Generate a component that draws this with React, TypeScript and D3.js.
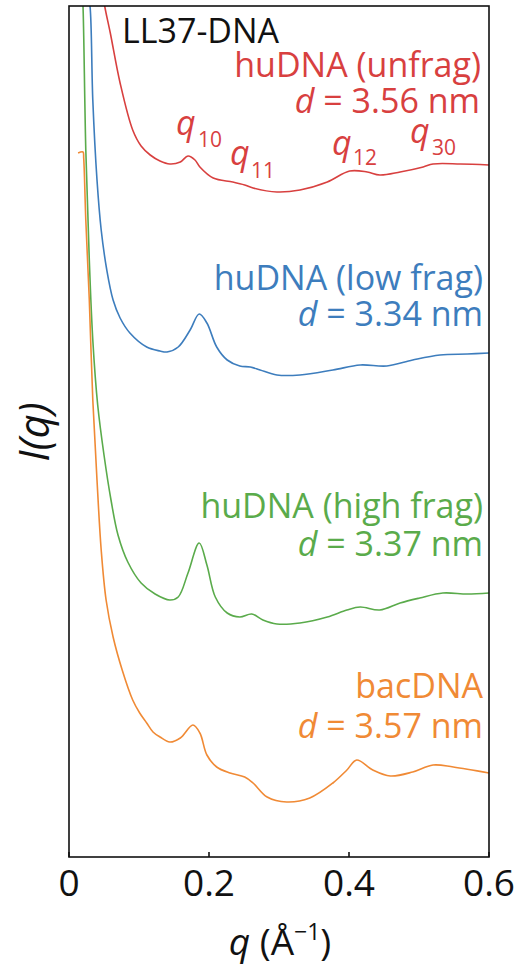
import React from "react";
import * as d3 from "d3";

// q values (Å^-1) and intensities (arbitrary units, offset stacked)
const redQ = [0.049, 0.051, 0.059, 0.073, 0.091, 0.103, 0.116, 0.130, 0.144, 0.159, 0.170, 0.180, 0.187, 0.206, 0.234, 0.251, 0.263, 0.297, 0.330, 0.369, 0.401, 0.426, 0.444, 0.473, 0.506, 0.520, 0.559, 0.600];
const redI = [862, 851, 824, 774, 727, 711, 702, 696, 693, 695, 701, 697, 690, 679, 675, 672, 669, 665, 667, 675, 686, 685, 682, 685, 690, 693, 693, 692];

const blueQ = [0.027, 0.030, 0.034, 0.040, 0.046, 0.054, 0.063, 0.073, 0.087, 0.111, 0.130, 0.140, 0.156, 0.173, 0.186, 0.197, 0.211, 0.226, 0.244, 0.259, 0.273, 0.297, 0.330, 0.377, 0.416, 0.454, 0.491, 0.530, 0.569, 0.600];
const blueI = [862, 851, 757, 677, 627, 587, 557, 539, 524, 510, 506, 505, 510, 527, 543, 534, 510, 497, 491, 490, 487, 482, 482, 487, 492, 491, 497, 502, 503, 504];

const greenQ = [0.019, 0.020, 0.024, 0.029, 0.034, 0.041, 0.050, 0.060, 0.070, 0.084, 0.103, 0.123, 0.144, 0.156, 0.170, 0.186, 0.197, 0.209, 0.226, 0.244, 0.261, 0.277, 0.297, 0.330, 0.369, 0.397, 0.416, 0.444, 0.473, 0.501, 0.534, 0.569, 0.600];
const greenI = [862, 851, 707, 597, 517, 452, 402, 357, 322, 295, 274, 263, 257, 260, 284, 314, 292, 260, 244, 240, 243, 237, 233, 234, 240, 247, 250, 247, 254, 259, 264, 263, 264];

const orangeQ = [0.013, 0.020, 0.021, 0.024, 0.029, 0.034, 0.040, 0.046, 0.053, 0.063, 0.076, 0.091, 0.101, 0.111, 0.120, 0.130, 0.144, 0.159, 0.177, 0.187, 0.197, 0.211, 0.230, 0.251, 0.263, 0.283, 0.311, 0.344, 0.377, 0.397, 0.411, 0.434, 0.459, 0.491, 0.520, 0.549, 0.600];
const orangeI = [704, 705, 699, 637, 557, 457, 377, 307, 257, 220, 187, 157, 144, 134, 125, 120, 115, 119, 132, 124, 102, 90, 84, 80, 74, 60, 55, 59, 74, 87, 97, 87, 81, 85, 92, 90, 84];

const xTicks = [0, 0.2, 0.4, 0.6];
const xTickLabels = ["0", "0.2", "0.4", "0.6"];

const COLORS = { red: "#d8403f", blue: "#3d7dbd", green: "#5aab4b", orange: "#f08a35" };
const FONT = "'Open Sans', 'Noto Sans', sans-serif";

export default function App() {
  const W = 528, H = 968;
  const left = 69, right = 489, top = 6, bottom = 857;
  const x = d3.scaleLinear().domain([0, 0.6]).range([left, right]);
  const y = d3.scaleLinear().domain([0, 851]).range([bottom, top]);
  const line = d3
    .line<[number, number]>()
    .x((d) => x(d[0]))
    .y((d) => y(d[1]))
    .curve(d3.curveCatmullRom.alpha(0.5));
  const mk = (qs: number[], is: number[]) => line(qs.map((q, i) => [q, is[i]] as [number, number])) || "";

  const series = [
    { q: redQ, i: redI, c: COLORS.red },
    { q: blueQ, i: blueI, c: COLORS.blue },
    { q: greenQ, i: greenI, c: COLORS.green },
    { q: orangeQ, i: orangeI, c: COLORS.orange },
  ];

  const labelX = 483;
  const fs = 34;

  const qLabel = (qx: number, qy: number, sub: string, sx: number, sy: number) => (
    <g fill={COLORS.red} fontFamily={FONT}>
      <text x={qx} y={qy} fontSize={34} fontStyle="italic">q</text>
      <text x={sx} y={sy} fontSize={21}>{sub}</text>
    </g>
  );

  return (
    <svg width={W} height={H} style={{ position: "absolute", left: 0, top: 0 }} xmlns="http://www.w3.org/2000/svg">
      <defs>
        <clipPath id="plotclip">
          <rect x={left} y={top} width={right - left} height={bottom - top} />
        </clipPath>
      </defs>
      <rect x={0} y={0} width={W} height={H} fill="#fff" />
      <g clipPath="url(#plotclip)">
        {series.map((s, k) => (
          <path key={k} d={mk(s.q, s.i)} fill="none" stroke={s.c} strokeWidth={1.6} strokeLinejoin="round" />
        ))}
      </g>
      <rect x={left} y={top} width={right - left} height={bottom - top} fill="none" stroke="#111" strokeWidth={1.6} />
      {xTicks.map((t, k) => (
        <g key={k}>
          <line x1={x(t)} x2={x(t)} y1={bottom} y2={bottom - 5} stroke="#111" strokeWidth={1.6} />
          <text x={x(t)} y={896} fontSize={37} fontFamily={FONT} textAnchor="middle" fill="#111">
            {xTickLabels[k]}
          </text>
        </g>
      ))}
      <text x={280} y={955} fontSize={37} fontFamily={FONT} textAnchor="middle" fill="#111">
        <tspan fontStyle="italic">q</tspan>
        <tspan> (Å</tspan>
        <tspan fontSize={23} dy={-15}>−1</tspan>
        <tspan dy={15}>)</tspan>
      </text>
      <text
        transform="translate(49,432) rotate(-90)"
        fontSize={42}
        fontFamily={FONT}
        fontStyle="italic"
        textAnchor="middle"
        fill="#111"
      >
        I(q)
      </text>

      <text x={122} y={43} fontSize={fs} fontFamily={FONT} fill="#111">LL37-DNA</text>

      <g fontFamily={FONT} fontSize={fs} textAnchor="end">
        <text x={labelX - 2} y={77} fill={COLORS.red}>huDNA (unfrag)</text>
        <text x={labelX - 3} y={113} fill={COLORS.red}>
          <tspan fontStyle="italic">d</tspan> = 3.56 nm
        </text>
        <text x={labelX} y={290} fill={COLORS.blue}>huDNA (low frag)</text>
        <text x={labelX} y={326} fill={COLORS.blue}>
          <tspan fontStyle="italic">d</tspan> = 3.34 nm
        </text>
        <text x={labelX} y={518} fill={COLORS.green}>huDNA (high frag)</text>
        <text x={labelX} y={556} fill={COLORS.green}>
          <tspan fontStyle="italic">d</tspan> = 3.37 nm
        </text>
        <text x={labelX} y={698} fill={COLORS.orange}>bacDNA</text>
        <text x={labelX} y={738} fill={COLORS.orange}>
          <tspan fontStyle="italic">d</tspan> = 3.57 nm
        </text>
      </g>

      {qLabel(176, 135, "10", 198, 147)}
      {qLabel(230, 165, "11", 251, 178)}
      {qLabel(332, 155, "12", 353, 165)}
      {qLabel(410, 143, "30", 432, 155)}
    </svg>
  );
}
